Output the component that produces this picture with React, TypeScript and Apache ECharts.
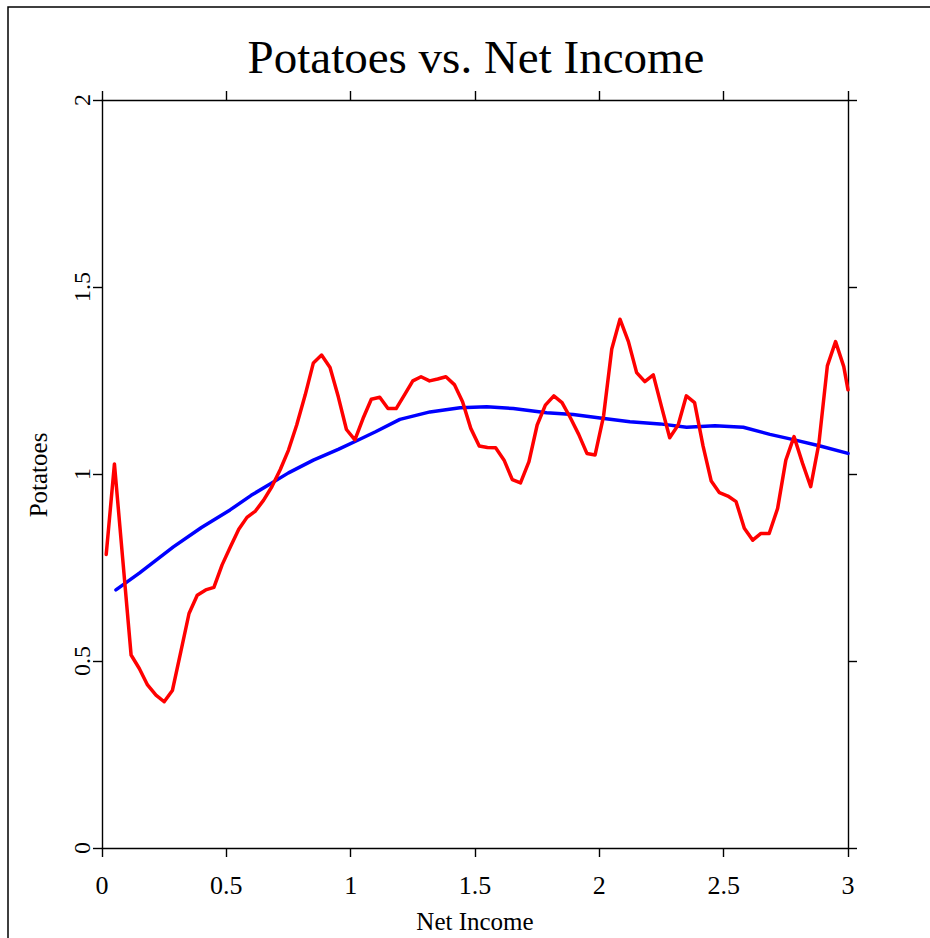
import React, { useEffect, useRef } from 'react';
import * as echarts from 'echarts';

const titleText = 'Potatoes vs. Net Income';
const xName = 'Net Income';
const yName = 'Potatoes';

const redNetIncome = [
  0.017, 0.05, 0.083, 0.117, 0.15, 0.183, 0.217, 0.25, 0.283, 0.317,
  0.35, 0.383, 0.417, 0.45, 0.483, 0.517, 0.55, 0.583, 0.617, 0.65,
  0.683, 0.717, 0.75, 0.783, 0.817, 0.85, 0.883, 0.917, 0.95, 0.983,
  1.017, 1.05, 1.083, 1.117, 1.15, 1.183, 1.217, 1.25, 1.283, 1.317,
  1.35, 1.383, 1.417, 1.45, 1.483, 1.517, 1.55, 1.583, 1.617, 1.65,
  1.683, 1.717, 1.75, 1.783, 1.817, 1.85, 1.883, 1.917, 1.95, 1.983,
  2.017, 2.05, 2.083, 2.117, 2.15, 2.183, 2.217, 2.25, 2.283, 2.317,
  2.35, 2.383, 2.417, 2.45, 2.483, 2.517, 2.55, 2.583, 2.617, 2.65,
  2.683, 2.717, 2.75, 2.783, 2.817, 2.85, 2.883, 2.917, 2.95, 2.983,
  3.0,
];
const redPotatoes = [
  0.785, 1.027, 0.775, 0.516, 0.48, 0.436, 0.409, 0.391, 0.421, 0.525,
  0.627, 0.676, 0.69, 0.697, 0.757, 0.806, 0.852, 0.884, 0.901, 0.93,
  0.966, 1.012, 1.064, 1.131, 1.211, 1.297, 1.318, 1.285, 1.207, 1.119,
  1.091, 1.149, 1.2, 1.205, 1.175, 1.175, 1.212, 1.249, 1.26, 1.249,
  1.254, 1.26, 1.239, 1.193, 1.122, 1.075, 1.071, 1.07, 1.037, 0.985,
  0.976, 1.033, 1.131, 1.184, 1.209, 1.191, 1.151, 1.106, 1.055, 1.051,
  1.155, 1.334, 1.414, 1.354, 1.271, 1.247, 1.265, 1.18, 1.097, 1.131,
  1.209, 1.191, 1.075, 0.981, 0.95, 0.941, 0.926, 0.855, 0.823, 0.841,
  0.841, 0.908, 1.037, 1.1, 1.029, 0.966, 1.082, 1.289, 1.354, 1.287,
  1.225,
];

const fitNetIncome = [
  0.056, 0.15, 0.287, 0.4, 0.515, 0.6, 0.676, 0.75, 0.85, 0.95,
  1.037, 1.1, 1.198, 1.319, 1.44, 1.547, 1.654, 1.788, 1.895, 2.003,
  2.123, 2.244, 2.351, 2.465, 2.579, 2.686, 2.78, 2.888, 3.0,
];
const fitPotatoes = [
  0.69, 0.735, 0.805, 0.857, 0.904, 0.943, 0.973, 1.003, 1.037, 1.066,
  1.093, 1.113, 1.146, 1.166, 1.177, 1.18, 1.175, 1.164, 1.159, 1.15,
  1.14, 1.134, 1.125, 1.129, 1.125, 1.106, 1.092, 1.075, 1.055,
];

const FONT = '"Liberation Serif", "Times New Roman", serif';

export default function App() {
  const ref = useRef<HTMLDivElement>(null);
  useEffect(() => {
    const chart = echarts.init(ref.current as HTMLDivElement, null, { renderer: 'svg' });
    const axisLine = { show: true, onZero: false, lineStyle: { color: '#000', width: 1.4 } };
    const axisTick = { show: true, inside: false, length: 9, lineStyle: { color: '#000', width: 1.4 } };
    const redData = redNetIncome.map((x, i) => [x, redPotatoes[i]]);
    const fitData = fitNetIncome.map((x, i) => [x, fitPotatoes[i]]);
    chart.setOption({
      animation: false,
      backgroundColor: '#fff',
      grid: { left: 102, right: 82, top: 100, bottom: 90, containLabel: false },
      xAxis: [
        {
          type: 'value', position: 'bottom', min: 0, max: 3, interval: 0.5,
          axisLine, axisTick, splitLine: { show: false },
          axisLabel: { show: true, margin: 24, fontSize: 26, color: '#000', fontFamily: FONT, showMinLabel: true, showMaxLabel: true },
        },
        {
          type: 'value', position: 'top', min: 0, max: 3, interval: 0.5,
          axisLine, axisTick, splitLine: { show: false }, axisLabel: { show: false },
        },
      ],
      yAxis: [
        {
          type: 'value', position: 'left', min: 0, max: 2, interval: 0.5,
          axisLine, axisTick, splitLine: { show: false },
          axisLabel: { show: true, rotate: 90, margin: 8, fontSize: 24, color: '#000', fontFamily: FONT, showMinLabel: true, showMaxLabel: true },
        },
        {
          type: 'value', position: 'right', min: 0, max: 2, interval: 0.5,
          axisLine, axisTick, splitLine: { show: false }, axisLabel: { show: false },
        },
      ],
      series: [
        {
          type: 'line', data: fitData, xAxisIndex: 0, yAxisIndex: 0,
          showSymbol: false, symbol: 'none', clip: true,
          lineStyle: { color: '#0000ff', width: 3.5, join: 'round', cap: 'round' },
        },
        {
          type: 'line', data: redData, xAxisIndex: 0, yAxisIndex: 0,
          showSymbol: false, symbol: 'none', clip: true,
          lineStyle: { color: '#ff0000', width: 3.5, join: 'round', cap: 'round' },
        },
      ],
      graphic: [
        {
          type: 'rect', shape: { x: 8, y: 7, width: 1100, height: 1100 }, silent: true,
          style: { fill: 'none', stroke: '#000', lineWidth: 1.5 },
        },
        {
          type: 'text', x: 476, y: 57,
          style: { text: titleText, fontSize: 47, fontFamily: FONT, fill: '#000', textAlign: 'center', textVerticalAlign: 'middle' },
        },
        {
          type: 'text', x: 475, y: 921,
          style: { text: xName, fontSize: 25, fontFamily: FONT, fill: '#000', textAlign: 'center', textVerticalAlign: 'middle' },
        },
        {
          type: 'text', x: 38, y: 475, rotation: Math.PI / 2,
          style: { text: yName, fontSize: 25, fontFamily: FONT, fill: '#000', textAlign: 'center', textVerticalAlign: 'middle' },
        },
      ],
    });
    return () => chart.dispose();
  }, []);
  return (
    <div
      ref={ref}
      style={{ position: 'fixed', left: 0, top: 0, width: 930, height: 938, background: '#fff' }}
    />
  );
}
